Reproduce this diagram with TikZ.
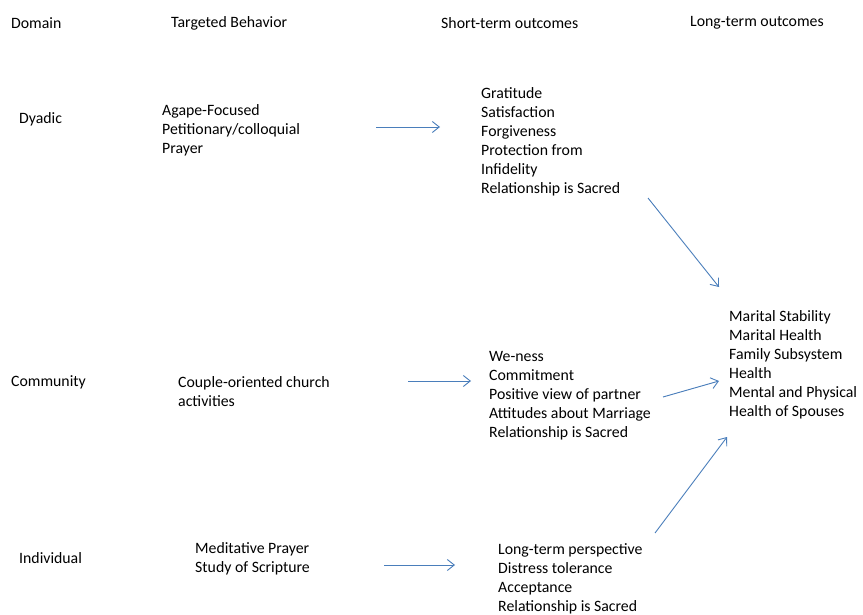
\documentclass[tikz,border=0pt]{standalone}
\usepackage{fontspec}
\setmainfont{Carlito}
\usetikzlibrary{arrows.meta}
\definecolor{arrowblue}{HTML}{4A7EBB}
\begin{document}
\begin{tikzpicture}[x=1pt,y=-1pt,
  txt/.style={anchor=west,align=left,inner sep=0pt,font=\fontsize{15.8}{19.1}\selectfont},
  conn/.style={draw=arrowblue,line width=0.9pt,-{Straight Barb[length=7pt,width=11pt]}}]
\useasboundingbox (0,0) rectangle (863,615);
% headers
\node[txt] (hdom) at (11,23) {Domain};
\node[txt] (hbeh) at (171,23) {Targeted Behavior};
\node[txt] (hst) at (441,23) {Short-term outcomes};
\node[txt] (hlt) at (690,23) {Long-term outcomes};
% domains
\node[txt] (dyadic) at (19,119) {Dyadic};
\node[txt] (community) at (11,382) {Community};
\node[txt] (individual) at (19,558) {Individual};
% behaviors
\node[txt] (agape) at (162,130.5) {Agape-Focused\\Petitionary/colloquial\\Prayer};
\node[txt] (couple) at (178,392) {Couple-oriented church\\activities};
\node[txt] (medit) at (195,559) {Meditative Prayer\\Study of Scripture};
% short-term
\node[txt] (stdy) at (481,142) {Gratitude\\Satisfaction\\Forgiveness\\Protection from\\Infidelity\\Relationship is Sacred};
\node[txt] (stcom) at (489,396) {We-ness\\Commitment\\Positive view of partner\\Attitudes about Marriage\\Relationship is Sacred};
\node[txt] (stind) at (498,578.5) {Long-term perspective\\Distress tolerance\\Acceptance\\Relationship is Sacred};
% long-term
\node[txt] (lt) at (729,365) {Marital Stability\\Marital Health\\Family Subsystem\\Health\\Mental and Physical\\Health of Spouses};
% arrow endpoints
\coordinate (a1s) at (376,127); \coordinate (a1e) at (440,127);
\coordinate (a2s) at (408,381); \coordinate (a2e) at (471,381);
\coordinate (a3s) at (384,565); \coordinate (a3e) at (455,565);
\coordinate (b1s) at (648,198); \coordinate (b1e) at (719,287);
\coordinate (b2s) at (663,397); \coordinate (b2e) at (719,381);
\coordinate (b3s) at (655,533); \coordinate (b3e) at (727,437);
\draw[conn] (a1s) -- (a1e);
\draw[conn] (a2s) -- (a2e);
\draw[conn] (a3s) -- (a3e);
\draw[conn] (b1s) -- (b1e);
\draw[conn] (b2s) -- (b2e);
\draw[conn] (b3s) -- (b3e);
\end{tikzpicture}
\end{document}
